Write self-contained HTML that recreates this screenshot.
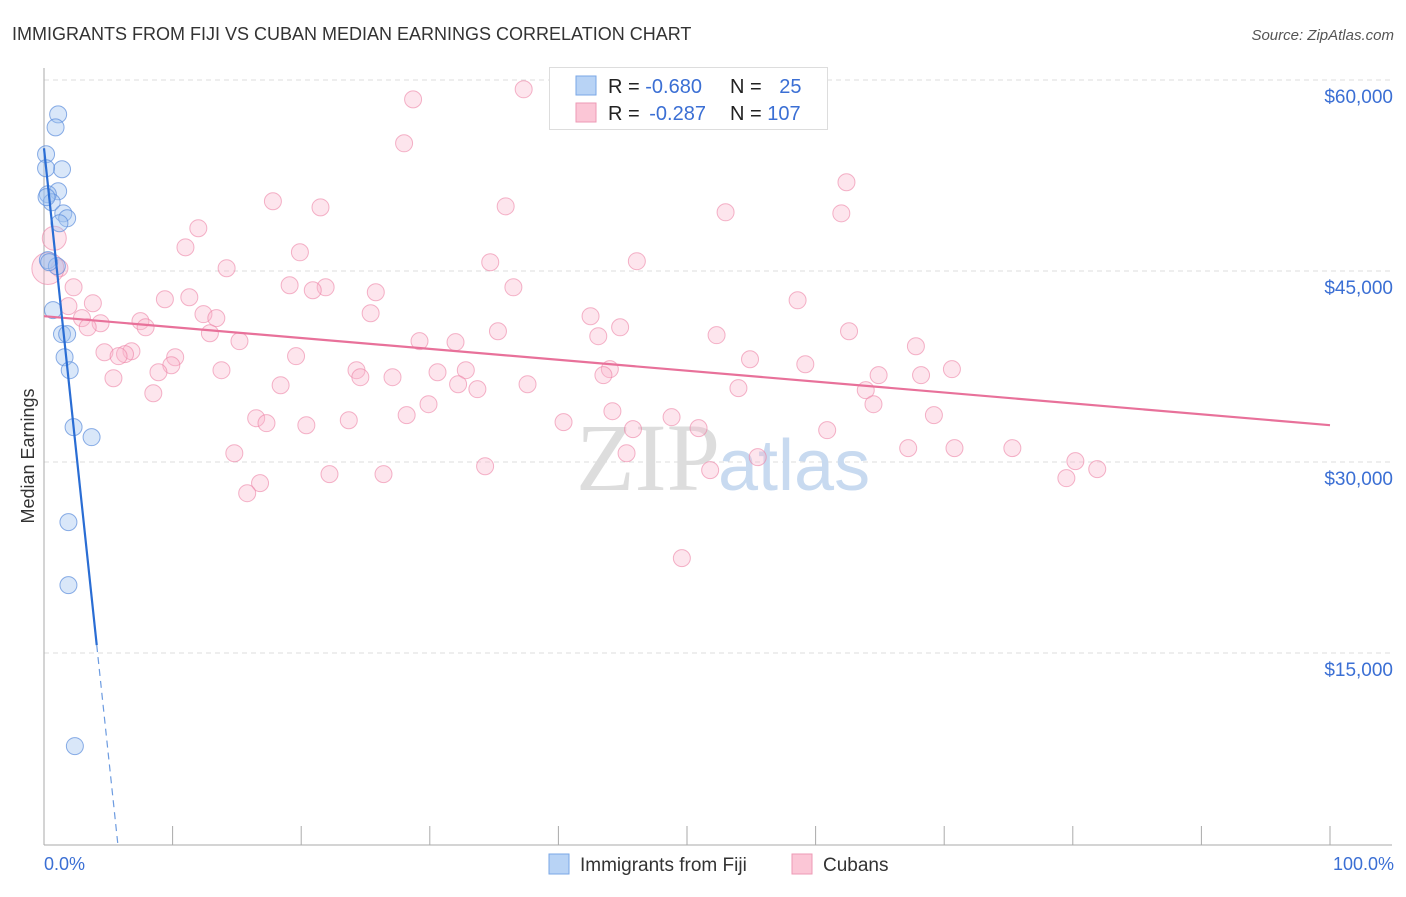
<!DOCTYPE html>
<html><head><meta charset="utf-8"><style>
body{margin:0;background:#fff;font-family:"Liberation Sans",sans-serif}
</style></head><body>
<svg width="1406" height="892" xmlns="http://www.w3.org/2000/svg" font-family="Liberation Sans, sans-serif">
<text x="12" y="40" font-size="18" fill="#333">IMMIGRANTS FROM FIJI VS CUBAN MEDIAN EARNINGS CORRELATION CHART</text>
<text x="1394" y="40" font-size="15" fill="#555" font-style="italic" text-anchor="end">Source: ZipAtlas.com</text>
<g id="grid"></g>
<text x="720" y="490" font-size="96" fill="#ddd" text-anchor="end" font-family="Liberation Serif, serif">ZIP</text>
<text x="718" y="490" font-size="72" fill="#c8daf0">atlas</text>
<g id="axes"></g>
<g id="pts"></g>
<g id="trends"></g>
<text transform="translate(34,456) rotate(-90)" font-size="18" fill="#333" text-anchor="middle">Median Earnings</text>
<text x="44" y="870" font-size="18" fill="#3b6fd4">0.0%</text>
<text x="1394" y="870" font-size="18" fill="#3b6fd4" text-anchor="end">100.0%</text>
<g>
<rect x="549.5" y="67.5" width="278" height="62" fill="#fff" stroke="#ddd"/>
<rect x="576" y="76" width="20" height="19" fill="#b8d3f5" stroke="#7aa7e6"/>
<rect x="576" y="103" width="20" height="19" fill="#fbc6d6" stroke="#ee9ab5"/>
<text x="608" y="93" font-size="20" fill="#222">R = <tspan fill="#3b6fd4">-0.680</tspan></text>
<text x="730" y="93" font-size="20" fill="#222">N = <tspan fill="#3b6fd4" dx="12">25</tspan></text>
<text x="608" y="120" font-size="20" fill="#222">R = <tspan fill="#3b6fd4" dx="4">-0.287</tspan></text>
<text x="730" y="120" font-size="20" fill="#222">N = <tspan fill="#3b6fd4">107</tspan></text>
</g>
<g>
<rect x="549" y="854" width="20" height="20" fill="#b8d3f5" stroke="#7aa7e6"/>
<text x="580" y="871" font-size="19" fill="#333">Immigrants from Fiji</text>
<rect x="792" y="854" width="20" height="20" fill="#fbc6d6" stroke="#ee9ab5"/>
<text x="823" y="871" font-size="19" fill="#333">Cubans</text>
</g>
</svg>
<script>
const yTicks=[15000,30000,45000,60000];
const yTickLabels=["$15,000","$30,000","$45,000","$60,000"];
const xTicks=[0,10,20,30,40,50,60,70,80,90,100];
const fijiX=[1.1,0.9,0.16,1.4,0.16,1.1,0.3,0.6,1.5,1.8,1.2,0.3,1.0,0.7,1.4,1.8,1.6,2.0,2.3,3.7,1.9,1.9,2.4,0.2,0.4];
const fijiY=[57300,56280,54170,52990,53070,51260,51030,50400,49530,49140,48750,45850,45380,41930,40040,40040,38230,37210,32740,31950,25280,20330,7690,50800,45700];
const cubaX=[37.3,28.7,28.0,62.4,17.8,21.5,35.9,53.0,62.0,12.0,0.8,11.0,19.9,34.7,46.1,14.2,1.2,2.3,19.1,21.9,20.9,36.5,25.8,9.4,11.3,3.8,58.6,1.9,12.4,13.4,25.4,42.5,2.95,4.4,7.5,7.9,3.4,44.8,35.3,62.6,12.9,52.3,43.1,15.2,29.2,32.0,67.8,4.7,6.8,6.3,5.8,19.6,10.2,54.9,59.2,9.9,8.9,13.8,24.3,30.6,32.8,44.0,70.6,24.6,27.1,43.5,64.9,68.2,5.4,32.2,33.7,37.6,18.4,54.0,63.9,8.5,64.5,29.9,44.2,28.2,69.2,48.8,16.5,23.7,40.4,17.3,20.4,50.9,45.8,60.9,14.8,45.3,55.5,67.2,70.8,75.3,80.2,34.3,51.8,81.9,22.2,26.4,79.5,16.8,15.8,49.6,0.3];
const cubaY=[59270,58480,55030,51970,50480,50000,50080,49610,49530,48360,47570,46860,46470,45690,45770,45220,45220,43720,43880,43720,43490,43720,43330,42780,42940,42470,42700,42240,41610,41300,41680,41450,41300,40900,41060,40580,40580,40580,40270,40270,40110,39960,39880,39490,39490,39410,39090,38620,38700,38470,38310,38310,38230,38070,37680,37600,37050,37210,37210,37050,37210,37290,37290,36660,36660,36820,36820,36820,36580,36110,35720,36110,36030,35800,35640,35400,34540,34540,33990,33680,33680,33520,33440,33280,33130,33050,32890,32660,32580,32500,30690,30690,30380,31090,31090,31090,30070,29670,29360,29440,29050,29050,28730,28340,27550,22450,45200];
const fijiTrend=[[0,54640],[4.1,15620],[5.74,0]];
const cubaTrend=[[0,41450],[100,32890]];
const NS="http://www.w3.org/2000/svg";
const X=v=>44+v*12.86;
const Y=v=>844-v*191/15000;
function mk(tag,a,p){const e=document.createElementNS(NS,tag);for(const k in a)e.setAttribute(k,a[k]);p.appendChild(e);return e;}
const grid=document.getElementById('grid'),axes=document.getElementById('axes'),pts=document.getElementById('pts'),tr=document.getElementById('trends');
yTicks.forEach((t,i)=>{
 const l=mk('line',{x1:44,x2:1392,y1:Y(t),y2:Y(t),stroke:'#ddd','stroke-dasharray':'5,4'},grid);
 
 
 const tx=mk('text',{x:1393,y:Y(t)+23,'font-size':19,fill:'#3b6fd4','text-anchor':'end'},grid);
 tx.textContent=yTickLabels[i];
 
 
});
const tl=mk('line',{x1:44,x2:1392,y1:80,y2:80,stroke:'#ddd','stroke-dasharray':'5,4'},grid);


const ya=mk('line',{x1:44,x2:44,y1:68,y2:845,stroke:'#aaa'},axes);


const xa=mk('line',{x1:44,x2:1392,y1:845,y2:845,stroke:'#aaa'},axes);


xTicks.forEach(t=>{const l=mk('line',{x1:X(t),x2:X(t),y1:826,y2:845,stroke:'#aaa'},axes);
 
 });
cubaX.forEach((x,i)=>{const r=i==cubaX.length-1?16:(i==10?12:8.5);
 const c=mk('circle',{cx:X(x),cy:Y(cubaY[i]),r:r,fill:'rgba(248,180,202,0.35)',stroke:'rgba(236,130,165,0.6)','stroke-width':1},pts);
 
 });
fijiX.forEach((x,i)=>{const c=mk('circle',{cx:X(x),cy:Y(fijiY[i]),r:8.5,fill:'rgba(160,195,240,0.4)',stroke:'rgba(90,140,220,0.7)','stroke-width':1},pts);
 
 });
const ct=mk('line',{x1:X(cubaTrend[0][0]),y1:Y(cubaTrend[0][1]),x2:X(cubaTrend[1][0]),y2:Y(cubaTrend[1][1]),stroke:'#e8719a','stroke-width':2.2},tr);


const ft=mk('line',{x1:X(fijiTrend[0][0]),y1:Y(fijiTrend[0][1]),x2:X(fijiTrend[1][0]),y2:Y(fijiTrend[1][1]),stroke:'#2a6dd4','stroke-width':2.2},tr);


const fd=mk('line',{x1:X(fijiTrend[1][0]),y1:Y(fijiTrend[1][1]),x2:X(fijiTrend[2][0]),y2:Y(fijiTrend[2][1]),stroke:'#6c9be0','stroke-width':1.2,'stroke-dasharray':'7,5'},tr);


</script>
</body></html>
